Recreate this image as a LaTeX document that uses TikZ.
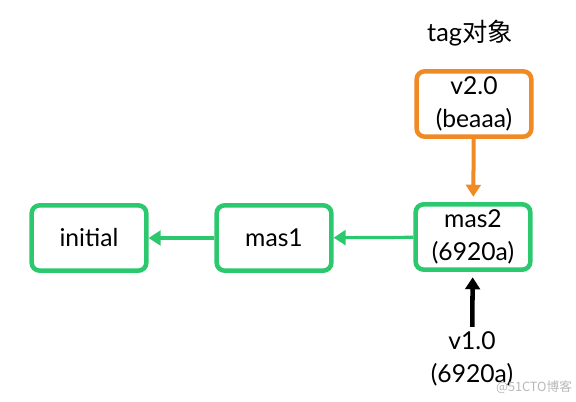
\documentclass[tikz,border=0pt]{standalone}
\usepackage{fontspec}
\setmainfont{Lato}
\newfontfamily\cjkfont{Noto Sans CJK SC}
\usetikzlibrary{arrows.meta}
\definecolor{commitgreen}{RGB}{44,200,110}
\definecolor{tagorange}{RGB}{240,138,36}
\tikzset{
  commit/.style={draw=commitgreen, line width=3.4pt, rounded corners=6pt, fill=white,
    minimum width=86pt, minimum height=49pt, align=center, font=\fontsize{18.5}{25}\selectfont},
  tagbox/.style={commit, draw=tagorange},
  link/.style={draw=commitgreen, line width=2.4pt, -{Triangle[length=9pt,width=11pt]}},
}

\begin{document}
\begin{tikzpicture}[x=0.75pt,y=-0.75pt]
        \useasboundingbox[fill=white] (0,0) rectangle (576,401);
        \node[font=\fontsize{19}{22}\selectfont] (title) at (470,33) {tag{\cjkfont 对象}};
        \node[tagbox] (v2) at (474,104) {v2.0\\(beaaa)};
        \node[commit] (mas2) at (473,237) {mas2\\(6920a)};
        \node[commit] (mas1) at (274,238) {mas1};
        \node[commit] (init) at (89,238) {initial};
        \node[align=center, font=\fontsize{18.5}{25}\selectfont] (v1) at (472,359) {v1.0\\(6920a)};
        \draw[link] (mas2) -- (mas1);
        \draw[link] (mas1) -- (init);
        \draw[link, draw=tagorange, line width=3pt, shorten >=4pt] (v2) -- (mas2);
        \draw[link, draw=black, line width=3.4pt, shorten >=4pt] (v1) -- (mas2);
        \node[text=gray!55, font=\cjkfont\fontsize{9.5}{11}\selectfont, inner sep=1pt] (mark) at (534,387) {@51CTO博客};
    \end{tikzpicture}
\end{document}
